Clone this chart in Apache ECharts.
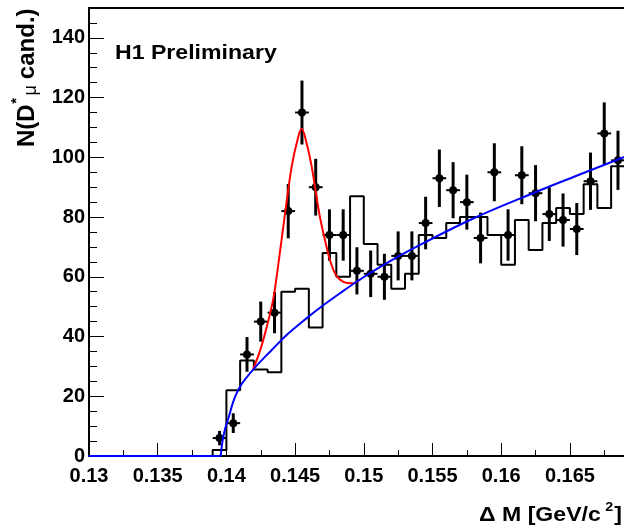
<!DOCTYPE html>
<html>
<head>
<meta charset="utf-8">
<script src="https://cdn.jsdelivr.net/npm/echarts@6/dist/echarts.min.js"></script>
<style>
html,body{margin:0;padding:0;background:#fff;}
#c{width:624px;height:530px;}
</style>
</head>
<body>
<div id="c"></div>
<script>
// ---- data points (bin centres, counts, statistical errors) ----
const binCenters = [0.1395,0.1405,0.1415,0.1425,0.1435,0.1445,0.1455,0.1465,0.1475,0.1485,
                    0.1495,0.1505,0.1515,0.1525,0.1535,0.1545,0.1555,0.1565,0.1575,0.1585,
                    0.1595,0.1605,0.1615,0.1625,0.1635,0.1645,0.1655,0.1665,0.1675,0.1685];
const counts = [6,11,34,45,48,82,115,90,74,74,
                62,61,60,67,67,78,93,89,85,73,
                95,74,94,88,81,79,76,92,108,99];
const errors = [2.4,3.3,5.8,6.7,6.9,9.1,10.7,9.5,8.6,8.6,
                7.9,7.8,7.7,8.2,8.2,8.8,9.6,9.4,9.2,8.5,
                9.7,8.6,9.7,9.4,9.0,8.9,8.7,9.6,10.4,9.9];

// ---- histogram (bin low edges and contents) ----
const histEdges = [0.130,0.131,0.132,0.133,0.134,0.135,0.136,0.137,0.138,0.139,
                   0.140,0.141,0.142,0.143,0.144,0.145,0.146,0.147,0.148,0.149,
                   0.150,0.151,0.152,0.153,0.154,0.155,0.156,0.157,0.158,0.159,
                   0.160,0.161,0.162,0.163,0.164,0.165,0.166,0.167,0.168,0.169];
const histValues = [0,0,0,0,0,0,0,0,0,2,
                    22,32,29,28,55,56,43,68,60,87,
                    71,64,56,61,74,73,78,80,80,74,
                    64,79,69,78,83,81,91,83,97];

// ---- background curve (blue) ----
const bgFlatX = [0.1300,0.139585];
const bgFlatY = [0,0];
const bgX = [0.139585,0.13970,0.13990,0.14020,0.14060,0.14110,0.14200,0.14330,0.14450,0.14580,
             0.14700,0.14830,0.14970,0.15120,0.15340,0.15800,0.16280,0.16530,0.16900];
const bgY = [0,4.5,9.0,13.5,19.5,24.0,29.2,35.5,41.0,46.0,
             50.3,54.6,59.0,63.3,69.0,79.6,88.9,93.5,100.2];

// ---- full fit curve (red) ----
const fitX = [0.14195,0.14245,0.14281,0.14317,0.14346,0.14385,0.14414,0.14443,0.14475,0.14511,
              0.14548,0.14584,0.14621,0.14652,0.14681,0.14718,0.14754,0.14798,0.14851,0.14912,0.14972];
const fitY = [29.1,35.3,41.0,47.5,53.8,66.7,76.7,86.7,96.8,104.6,
              109.6,104.6,96.8,87.9,80.0,72.2,65.6,60.5,58.3,57.8,59.0];

const binHalfWidth = 0.0005;

const FONT = '"Liberation Sans", Arial, Helvetica, sans-serif';
const chart = echarts.init(document.getElementById('c'), null, {renderer:'canvas', width:624, height:530});

const histData = histEdges.map((e,i)=>[e, histValues[Math.min(i, histValues.length-1)]]);
const pointData = binCenters.map((x,i)=>[x, counts[i], errors[i]]);
const bgFlatData = bgFlatX.map((x,i)=>[x, bgFlatY[i]]);
const bgData = bgX.map((x,i)=>[x, bgY[i]]);
const fitData = fitX.map((x,i)=>[x, fitY[i]]);

// text measuring helper
const mctx = document.createElement('canvas').getContext('2d');
function tw(t, f){ mctx.font = f; return mctx.measureText(t).width; }

// y title pieces
const yF = 'bold 24px ' + FONT, ySF = 'bold 15px ' + FONT, yMF = '18px ' + FONT;
const yw1 = tw('N(D', yF), yws = tw('*', ySF), ywm = tw('\u03bc', yMF);
const yTitle = {
  type:'group', x:27, y:147, rotation:Math.PI/2, silent:true,
  children:[
    {type:'text', x:0, y:0, style:{text:'N(D', font:yF, fill:'#000', align:'left', verticalAlign:'middle'}},
    {type:'text', x:yw1+0.5, y:-10.5, style:{text:'*', font:ySF, fill:'#000', align:'left', verticalAlign:'middle'}},
    {type:'text', x:yw1+yws+3, y:4, style:{text:'\u03bc', font:yMF, fill:'#000', align:'left', verticalAlign:'middle'}},
    {type:'text', x:yw1+yws+3+ywm+6, y:0, style:{text:'cand.)', font:yF, fill:'#000', align:'left', verticalAlign:'middle'}}
  ]
};

// x title pieces
const xF = 'bold 21px ' + FONT, xSF = 'bold 13px ' + FONT;
const xw1 = tw('\u0394 M [GeV/c', xF), xw2 = tw('2', xSF), xw3 = tw(']', xF);
const xTotal = xw1 + 4 + xw2 + 1 + xw3;
const xTitle = {
  type:'group', x:622 - xTotal*1.1, y:515, scaleX:1.1, silent:true,
  children:[
    {type:'text', x:0, y:0, style:{text:'\u0394 M [GeV/c', font:xF, fill:'#000', align:'left', verticalAlign:'middle'}},
    {type:'text', x:xw1+4, y:-8, style:{text:'2', font:xSF, fill:'#000', align:'left', verticalAlign:'middle'}},
    {type:'text', x:xw1+4+xw2+1, y:0, style:{text:']', font:xF, fill:'#000', align:'left', verticalAlign:'middle'}}
  ]
};

const option = {
  backgroundColor:'#fff',
  animation:false,
  grid:{left:89, top:8, right:-14.6, bottom:74, outerBoundsMode:'none', containLabel:false,
        show:true, borderColor:'#000', borderWidth:2, backgroundColor:'transparent'},
  xAxis:[{
    type:'value', min:0.13, max:0.17, interval:0.005,
    axisLine:{show:false},
    axisTick:{show:true, inside:true, length:13, lineStyle:{color:'#000', width:1}},
    minorTick:{show:true, splitNumber:2, length:6, lineStyle:{color:'#000', width:1}},
    splitLine:{show:false},
    axisLabel:{show:true, margin:10, color:'#000', fontFamily:FONT, fontWeight:'bold', fontSize:20,
      showMaxLabel:false, formatter:v=>String(+v.toFixed(4))}
  }],
  yAxis:[{
    type:'value', min:0, max:150, interval:20, position:'left',
    axisLine:{show:false},
    axisTick:{show:true, inside:true, length:15, lineStyle:{color:'#000', width:1}},
    splitLine:{show:false},
    axisLabel:{show:true, margin:4, padding:[3,0,0,0], color:'#000', fontFamily:FONT, fontWeight:'bold', fontSize:20,
      showMaxLabel:false, formatter:v=>String(v)}
  },{
    type:'value', min:0, max:150, interval:5, position:'left',
    axisLine:{show:false},
    axisTick:{show:true, inside:true, length:8, lineStyle:{color:'#000', width:1}},
    splitLine:{show:false},
    axisLabel:{show:false}
  }],
  graphic:[
    {type:'text', x:115, y:53, scaleX:1.1, silent:true,
     style:{text:'H1 Preliminary', font:'bold 21px ' + FONT, fill:'#000', align:'left', verticalAlign:'middle'}},
    yTitle, xTitle
  ],
  series:[
    {name:'hist', type:'line', step:'end', data:histData, xAxisIndex:0, yAxisIndex:0,
     showSymbol:false, symbol:'none', clip:true, z:2,
     lineStyle:{color:'#000', width:2}},
    {name:'data', type:'custom', data:pointData, xAxisIndex:0, yAxisIndex:0, clip:true, z:3,
     encode:{x:0, y:1},
     renderItem:function(params, api){
       const x = api.value(0), y = api.value(1), e = api.value(2);
       const c = api.coord([x, y]);
       const t = api.coord([x, y + e]);
       const b = api.coord([x, y - e]);
       const l = api.coord([x - binHalfWidth, y]);
       const r = api.coord([x + binHalfWidth, y]);
       return {type:'group', children:[
         {type:'line', shape:{x1:c[0], y1:t[1], x2:c[0], y2:b[1]}, style:{stroke:'#000', lineWidth:3}},
         {type:'line', shape:{x1:l[0], y1:c[1], x2:r[0], y2:c[1]}, style:{stroke:'#000', lineWidth:2}},
         {type:'circle', shape:{cx:c[0], cy:c[1], r:4}, style:{fill:'#000'}}
       ]};
     }},
    {name:'fit', type:'line', data:fitData, smooth:0.4, xAxisIndex:0, yAxisIndex:0,
     showSymbol:false, symbol:'none', clip:true, z:4,
     lineStyle:{color:'#ff0000', width:2}},
    {name:'bgFlat', type:'line', data:bgFlatData, xAxisIndex:0, yAxisIndex:0,
     showSymbol:false, symbol:'none', clip:false, z:5,
     lineStyle:{color:'#0000ff', width:2}},
    {name:'bg', type:'line', data:bgData, smooth:0.4, xAxisIndex:0, yAxisIndex:0,
     showSymbol:false, symbol:'none', clip:true, z:5,
     lineStyle:{color:'#0000ff', width:2}}
  ]
};
chart.setOption(option);
</script>
</body>
</html>
